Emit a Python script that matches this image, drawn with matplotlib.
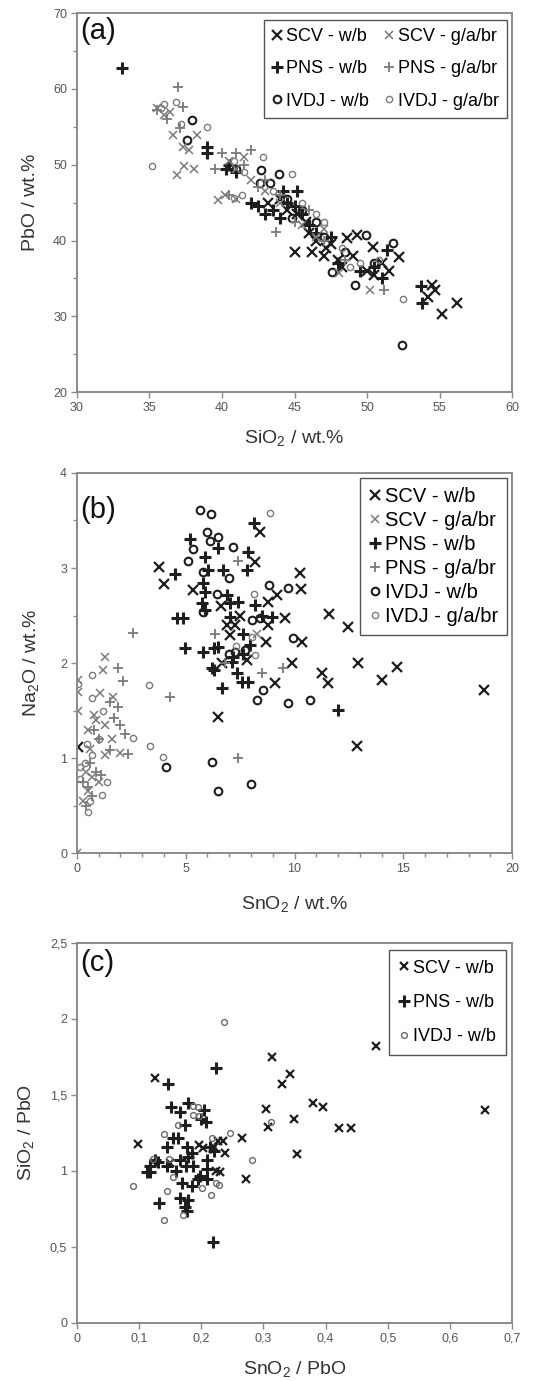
import matplotlib
matplotlib.use("Agg")
import matplotlib.pyplot as plt
from matplotlib.ticker import MultipleLocator, FuncFormatter

plt.rcParams['font.family'] = ['Liberation Sans', 'DejaVu Sans']
plt.rcParams['mathtext.fontset'] = 'custom'
plt.rcParams['mathtext.rm'] = 'Liberation Sans'
plt.rcParams['mathtext.it'] = 'Liberation Sans:italic'
plt.rcParams['mathtext.default'] = 'regular'

# ---- (a) SiO2 vs PbO (wt.%) ----
a_scv_wb = [(44.0, 45.5), (44.5, 44.0), (45.2, 43.5), (45.8, 42.5), (46.0, 41.0), (46.5, 40.0),
            (46.2, 38.5), (47.0, 38.0), (47.5, 39.5), (48.0, 37.5), (48.6, 40.4), (49.3, 40.7),
            (50.4, 39.1), (49.0, 38.0), (50.0, 36.0), (50.5, 35.5), (51.0, 37.0), (51.5, 36.0),
            (52.2, 37.8), (54.5, 34.1), (54.7, 33.5), (54.2, 32.6), (55.2, 30.3), (56.2, 31.7),
            (47.2, 39.0), (45.0, 38.5), (43.2, 45.0), (48.3, 36.5)]
a_scv_g = [(35.5, 57.5), (36.0, 56.5), (36.6, 53.9), (37.3, 52.3), (37.7, 51.9), (38.3, 53.9),
           (36.9, 48.6), (37.4, 49.8), (38.1, 49.5), (39.7, 45.3), (40.5, 50.5), (41.0, 49.5),
           (41.5, 51.0), (42.0, 48.0), (43.0, 46.5), (44.0, 45.0), (45.5, 42.0), (46.5, 40.5),
           (48.1, 35.7), (50.2, 33.5), (47.0, 41.5), (36.4, 57.0), (41.0, 45.5), (40.2, 46.0)]
a_pns_wb = [(33.1, 62.8), (39.0, 52.3), (39.0, 51.5), (40.5, 50.0), (41.0, 49.0), (42.0, 45.0),
            (42.5, 44.5), (43.5, 44.0), (44.0, 43.0), (44.5, 45.0), (45.0, 44.5), (45.5, 43.5),
            (46.0, 42.0), (46.5, 41.0), (47.5, 40.5), (48.0, 37.0), (49.5, 36.0), (50.5, 36.5),
            (51.4, 38.7), (51.0, 35.0), (53.7, 34.0), (53.8, 31.7), (43.0, 43.5), (44.2, 46.5),
            (45.2, 46.5), (40.3, 49.5)]
a_pns_g = [(37.0, 60.2), (37.3, 57.6), (35.5, 57.2), (37.1, 54.8), (36.2, 56.0), (40.0, 51.5),
           (41.0, 51.5), (41.5, 50.0), (42.0, 52.0), (40.5, 46.0), (43.7, 41.1), (44.0, 46.0),
           (45.0, 42.5), (47.0, 40.0), (51.2, 33.5), (42.5, 47.0), (43.0, 48.0), (46.0, 44.0),
           (48.5, 37.5), (39.5, 49.5)]
a_ivdj_wb = [(37.9, 55.9), (37.6, 53.2), (42.7, 49.3), (43.9, 48.8), (42.6, 47.6), (43.3, 47.6),
             (49.9, 40.7), (51.8, 39.7), (47.6, 35.8), (49.2, 34.1), (52.4, 26.2), (41.0, 49.5),
             (45.5, 44.0), (46.5, 42.5), (48.5, 38.5), (50.5, 37.0), (44.5, 45.5), (47.0, 40.5),
             (44.8, 43.0)]
a_ivdj_g = [(36.8, 58.3), (37.2, 55.4), (39.0, 55.0), (35.2, 49.8), (40.8, 45.6), (41.4, 46.0),
            (42.8, 51.0), (44.8, 48.8), (52.5, 32.3), (36.0, 58.0), (35.8, 57.5), (40.8, 50.5),
            (41.5, 49.0), (43.5, 46.5), (45.5, 45.0), (46.5, 43.5), (47.0, 42.5), (48.3, 39.0),
            (49.5, 37.0), (50.8, 37.5), (48.8, 36.5)]

# ---- (b) SnO2 vs Na2O (wt.%) ----
b_scv_wb = [(3.77, 3.01), (4.0, 2.83), (8.41, 3.38), (8.18, 3.06), (5.34, 2.77), (10.25, 2.95),
            (10.3, 2.78), (9.2, 2.72), (8.78, 2.64), (9.56, 2.47), (8.78, 2.4), (11.6, 2.52),
            (12.46, 2.38), (7.03, 2.29), (8.69, 2.22), (10.34, 2.22), (6.9, 2.4), (7.26, 2.4),
            (6.66, 2.0), (7.82, 2.03), (9.88, 2.0), (11.26, 1.89), (11.54, 1.79), (12.9, 2.0),
            (14.0, 1.82), (14.7, 1.96), (9.1, 1.79), (6.48, 1.43), (12.87, 1.13), (18.7, 1.72),
            (0.05, 1.12), (6.6, 2.6), (7.5, 2.5)]
b_scv_g = [(8.28, 2.31), (1.29, 2.06), (1.2, 1.93), (1.06, 1.68), (1.66, 1.64), (0.05, 1.82),
           (0.05, 1.7), (0.05, 1.5), (0.5, 1.3), (1.29, 1.03), (1.98, 1.05), (0.9, 1.4),
           (1.3, 1.35), (0.6, 1.1), (0.4, 0.85), (0.7, 0.8), (0.5, 0.65), (1.0, 0.75),
           (0.0, 0.0), (0.8, 1.45), (1.6, 1.2), (0.3, 0.55)]
b_pns_wb = [(4.5, 2.94), (8.14, 3.47), (5.2, 3.31), (6.48, 3.21), (7.86, 3.17), (7.82, 2.98),
            (5.88, 3.12), (6.02, 2.98), (6.71, 2.98), (5.8, 2.84), (5.88, 2.75), (6.9, 2.72),
            (5.75, 2.63), (5.88, 2.56), (7.03, 2.63), (7.4, 2.64), (8.18, 2.61), (8.5, 2.5),
            (8.97, 2.48), (4.87, 2.47), (4.6, 2.47), (7.03, 2.48), (7.63, 2.31), (4.97, 2.16),
            (5.8, 2.12), (6.48, 2.17), (7.17, 2.06), (7.63, 2.1), (7.95, 2.19), (6.2, 1.95),
            (7.12, 2.01), (7.35, 1.89), (7.58, 1.8), (7.86, 1.8), (6.66, 1.74), (12.0, 1.51),
            (6.3, 2.16), (6.3, 1.93)]
b_pns_g = [(2.59, 2.32), (7.4, 3.07), (6.34, 2.31), (9.47, 1.95), (8.5, 1.89), (7.4, 1.0),
           (4.28, 1.64), (1.9, 1.95), (2.1, 1.81), (1.5, 1.59), (1.9, 1.54), (2.35, 1.04),
           (2.0, 1.35), (2.2, 1.25), (1.7, 1.42), (1.0, 1.2), (0.8, 1.3), (0.6, 0.95),
           (0.9, 0.85), (0.5, 0.7), (0.4, 0.5), (0.7, 0.6), (1.1, 0.82), (0.3, 0.75),
           (1.5, 1.08), (6.8, 2.0)]
b_ivdj_wb = [(5.66, 3.61), (6.16, 3.57), (5.98, 3.38), (6.48, 3.33), (6.1, 3.28), (5.33, 3.2),
             (7.17, 3.22), (5.1, 3.07), (5.79, 2.96), (6.99, 2.9), (8.83, 2.82), (9.7, 2.79),
             (6.43, 2.73), (5.8, 2.54), (8.05, 2.45), (8.41, 2.47), (9.93, 2.26), (7.26, 2.12),
             (7.72, 2.14), (8.55, 1.72), (8.28, 1.61), (9.7, 1.58), (10.7, 1.61), (6.2, 0.96),
             (6.5, 0.65), (8.0, 0.73), (4.09, 0.91), (7.0, 2.1)]
b_ivdj_g = [(8.87, 3.58), (8.14, 2.73), (8.05, 2.27), (8.18, 2.08), (0.7, 1.87), (3.3, 1.77),
            (0.05, 1.78), (0.7, 1.63), (2.6, 1.21), (3.36, 1.13), (3.95, 1.01), (0.7, 1.03),
            (0.14, 0.91), (0.14, 0.78), (1.38, 0.75), (1.15, 0.61), (0.5, 0.43), (0.45, 1.15),
            (1.2, 1.5), (0.6, 0.55), (1.0, 1.2), (7.3, 2.18), (0.35, 0.95)]

# ---- (c) SnO2/PbO vs SiO2/PbO ----
c_scv_wb = [(0.126, 1.61), (0.314, 1.75), (0.343, 1.64), (0.33, 1.57), (0.481, 1.82), (0.657, 1.40),
            (0.304, 1.41), (0.308, 1.29), (0.349, 1.34), (0.38, 1.45), (0.396, 1.42), (0.422, 1.28),
            (0.441, 1.28), (0.354, 1.11), (0.098, 1.18), (0.266, 1.22), (0.227, 1.2), (0.196, 1.17),
            (0.22, 1.16), (0.238, 1.12), (0.235, 1.2), (0.23, 0.99), (0.272, 0.95), (0.224, 1.0),
            (0.203, 1.15), (0.15, 1.05)]
c_pns_wb = [(0.147, 1.57), (0.224, 1.68), (0.151, 1.42), (0.166, 1.39), (0.179, 1.45), (0.204, 1.4),
            (0.208, 1.32), (0.2, 1.34), (0.174, 1.30), (0.155, 1.22), (0.163, 1.22), (0.145, 1.16),
            (0.177, 1.16), (0.214, 1.16), (0.185, 1.12), (0.22, 1.13), (0.118, 1.03), (0.131, 1.06),
            (0.145, 1.03), (0.118, 0.99), (0.166, 1.07), (0.179, 1.09), (0.187, 1.03), (0.198, 0.97),
            (0.209, 1.01), (0.195, 0.95), (0.209, 1.07), (0.113, 0.99), (0.126, 1.07), (0.209, 0.95),
            (0.169, 0.92), (0.185, 0.9), (0.132, 0.79), (0.166, 0.82), (0.179, 0.81), (0.177, 0.74),
            (0.174, 0.76), (0.219, 0.53), (0.16, 1.0), (0.175, 1.03)]
c_ivdj_wb = [(0.237, 1.98), (0.313, 1.32), (0.187, 1.43), (0.187, 1.37), (0.163, 1.30), (0.14, 1.24),
             (0.246, 1.25), (0.217, 1.22), (0.122, 1.08), (0.148, 1.08), (0.281, 1.07), (0.09, 0.9),
             (0.145, 0.87), (0.201, 0.89), (0.229, 0.91), (0.216, 0.84), (0.171, 0.71), (0.14, 0.68),
             (0.224, 0.92), (0.155, 0.96), (0.197, 1.36), (0.195, 1.42)]

DARK = '#1e1e1e'
GREY = '#7a7a7a'
SPINE = '#8a8a8a'
TICKTXT = '#555555'
LABEL = '#333333'

# marker styles
st_scv_wb = dict(marker='x', ms=7, mew=1.6, color=DARK)
st_scv_g = dict(marker='x', ms=5.5, mew=1.1, color=GREY)
st_pns_wb = dict(marker='+', ms=8.5, mew=2.2, color=DARK)
st_pns_g = dict(marker='+', ms=7, mew=1.3, color=GREY)
st_ivdj_wb = dict(marker='o', ms=5.5, mew=1.5, color=DARK, mfc='none')
st_ivdj_g = dict(marker='o', ms=4.5, mew=1.0, color=GREY, mfc='none')


def scatter(ax, pts, st, label):
    xs = [p[0] for p in pts]
    ys = [p[1] for p in pts]
    ax.plot(xs, ys, ls='none', label=label, **st)


def style(ax):
    for s in ax.spines.values():
        s.set_color(SPINE)
        s.set_linewidth(1.4)
    ax.tick_params(which='both', direction='out', colors=SPINE, labelcolor=TICKTXT,
                   labelsize=9, width=1.0)
    ax.tick_params(which='major', length=4, pad=3)
    ax.tick_params(which='minor', length=3)


def legend(ax, anchor, ncol, spacing, pad, size=13):
    leg = ax.legend(ncol=ncol, loc='upper right', bbox_to_anchor=anchor, borderaxespad=0,
                    fontsize=size, labelspacing=spacing, handlelength=0.6, handletextpad=0.2,
                    columnspacing=0.8, fancybox=False, framealpha=1, borderpad=pad)
    leg.get_frame().set_edgecolor('#555555')
    leg.get_frame().set_linewidth(1.0)


comma = FuncFormatter(lambda v, p: ('%g' % v).replace('.', ','))

fig = plt.figure(figsize=(5.34, 13.81), dpi=100)

# (a)
ax = fig.add_axes([0.144, 0.716, 0.815, 0.2745])
scatter(ax, a_scv_wb, st_scv_wb, 'SCV - w/b')
scatter(ax, a_pns_wb, st_pns_wb, 'PNS - w/b')
scatter(ax, a_ivdj_wb, st_ivdj_wb, 'IVDJ - w/b')
scatter(ax, a_scv_g, st_scv_g, 'SCV - g/a/br')
scatter(ax, a_pns_g, st_pns_g, 'PNS - g/a/br')
scatter(ax, a_ivdj_g, st_ivdj_g, 'IVDJ - g/a/br')
ax.set_xlim(30, 60)
ax.set_ylim(20, 70)
ax.xaxis.set_major_locator(MultipleLocator(5))
ax.yaxis.set_major_locator(MultipleLocator(10))
ax.yaxis.set_minor_locator(MultipleLocator(5))
style(ax)
ax.set_xlabel('SiO$_2$ / wt.%', fontsize=14, color=LABEL, labelpad=10)
ax.set_ylabel('PbO / wt.%', fontsize=14, color=LABEL, labelpad=10)
ax.text(0.008, 0.99, '(a)', transform=ax.transAxes, fontsize=21, va='top', ha='left', color='#111111')
legend(ax, (0.9885, 0.982), 2, 0.85, 0.45)

# (b)
ax = fig.add_axes([0.144, 0.3823, 0.815, 0.2752])
scatter(ax, b_scv_wb, st_scv_wb, 'SCV - w/b')
scatter(ax, b_scv_g, st_scv_g, 'SCV - g/a/br')
scatter(ax, b_pns_wb, st_pns_wb, 'PNS - w/b')
scatter(ax, b_pns_g, st_pns_g, 'PNS - g/a/br')
scatter(ax, b_ivdj_wb, st_ivdj_wb, 'IVDJ - w/b')
scatter(ax, b_ivdj_g, st_ivdj_g, 'IVDJ - g/a/br')
ax.set_xlim(0, 20)
ax.set_ylim(0, 4)
ax.xaxis.set_major_locator(MultipleLocator(5))
ax.xaxis.set_minor_locator(MultipleLocator(1))
ax.yaxis.set_major_locator(MultipleLocator(1))
ax.yaxis.set_minor_locator(MultipleLocator(0.5))
style(ax)
ax.set_xlabel('SnO$_2$ / wt.%', fontsize=14, color=LABEL, labelpad=14)
ax.set_ylabel('Na$_2$O / wt.%', fontsize=14, color=LABEL, labelpad=14)
ax.text(0.008, 0.94, '(b)', transform=ax.transAxes, fontsize=21, va='top', ha='left', color='#111111')
legend(ax, (0.9885, 0.987), 1, 0.25, 0.45, size=14.5)

# (c)
ax = fig.add_axes([0.144, 0.042, 0.815, 0.2752])
scatter(ax, c_scv_wb, dict(marker='x', ms=6, mew=1.6, color=DARK), 'SCV - w/b')
scatter(ax, c_pns_wb, dict(marker='+', ms=8, mew=2.2, color=DARK), 'PNS - w/b')
scatter(ax, c_ivdj_wb, dict(marker='o', ms=4.2, mew=1.0, color='#6a6a6a', mfc='none'), 'IVDJ - w/b')
ax.set_xlim(0, 0.7)
ax.set_ylim(0, 2.5)
ax.xaxis.set_major_locator(MultipleLocator(0.1))
ax.yaxis.set_major_locator(MultipleLocator(0.5))
ax.xaxis.set_major_formatter(comma)
ax.yaxis.set_major_formatter(comma)
style(ax)
ax.set_xlabel('SnO$_2$ / PbO', fontsize=14, color=LABEL, labelpad=10)
ax.set_ylabel('SiO$_2$ / PbO', fontsize=14, color=LABEL, labelpad=10)
ax.text(0.008, 0.985, '(c)', transform=ax.transAxes, fontsize=21, va='top', ha='left', color='#111111')
legend(ax, (0.986, 0.982), 1, 0.95, 0.55)

fig.savefig('out.png', dpi=100)
